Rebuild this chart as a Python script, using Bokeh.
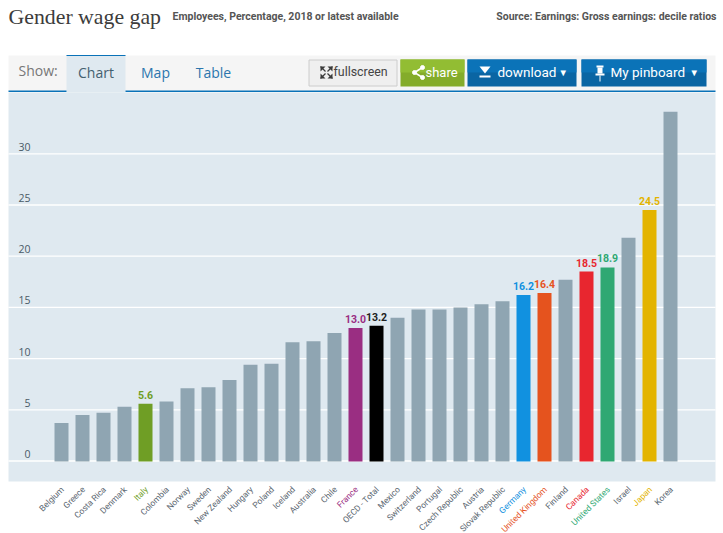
from bokeh.plotting import figure
from bokeh.models import Range1d
from bokeh.core.properties import value
from bokeh.embed import file_html
from bokeh.resources import INLINE

countries = ["Belgium","Greece","Costa Rica","Denmark","Italy","Colombia","Norway","Sweden","New Zealand","Hungary",
             "Poland","Iceland","Australia","Chile","France","OECD - Total","Mexico","Switzerland","Portugal","Czech Republic",
             "Austria","Slovak Republic","Germany","United Kingdom","Finland","Canada","United States","Israel","Japan","Korea"]
gap = [3.7,4.5,4.7,5.3,5.6,5.8,7.1,7.2,7.9,9.4,
       9.5,11.6,11.7,12.5,13.0,13.2,14.0,14.8,14.8,15.0,
       15.3,15.6,16.2,16.4,17.7,18.5,18.9,21.8,24.5,34.1]
highlight = {"Italy":"#6f9e25","France":"#9a2e82","OECD - Total":"#000000","Germany":"#1191e0","United Kingdom":"#e5531e",
             "Canada":"#e8262f","United States":"#2fa873","Japan":"#e3b400"}
y_ticks = [0,5,10,15,20,25,30]
GREY = "#8fa5b2"
BG = "#dfe9f0"
W, H = 723, 533
X0, DX = 61.0, 21.0
Y0, DY = 460.5, 10.24

p = figure(width=W, height=H, output_backend="svg", toolbar_location=None, margin=(0,0,0,0),
           x_range=Range1d(-X0/DX, (W-X0)/DX), y_range=Range1d(-(H-Y0)/DY, Y0/DY),
           min_border=0, outline_line_color=None, background_fill_color="white", border_fill_color="white")
p.axis.visible = False
p.grid.visible = False
p.extra_x_ranges["px"] = Range1d(0, W)
p.extra_y_ranges["px"] = Range1d(H, 0)
PX = dict(x_range_name="px", y_range_name="px")

def box(l, r, t, b, color, line=None):
    p.quad(left=l, right=r, top=t, bottom=b, fill_color=color, line_color=line, **PX)

def txt(x, y, s, size, color, font="Roboto", align="left", style="normal"):
    p.text(x=[x], y=[y], text=[s], text_font=value(font), text_font_size=f"{size}px", text_color=color,
           text_align=align, text_baseline="middle", text_font_style=style, **PX)

# header
txt(8, 16, "Gender wage gap", 21.8, "#3c3c3c", font="Liberation Serif")
txt(172, 16, "Employees, Percentage, 2018 or latest available", 10.5, "#555555", style="bold")
txt(716, 16, "Source: Earnings: Gross earnings: decile ratios", 10.5, "#555555", align="right", style="bold")

# tab strip
box(8, 715, 55, 90.5, "#f5f5f5")
box(66, 125, 55, 92, BG)
box(66, 125, 54.5, 55.5, "#0a72b8")
box(8, 66, 90, 91.5, "#0a72b8")
box(125, 715, 90, 91.5, "#0a72b8")
txt(18, 70, "Show:", 14, "#777777", font="Open Sans")
txt(95.5, 72, "Chart", 14, "#44606f", font="Open Sans", align="center")
txt(155, 72, "Map", 14, "#2c76ad", font="Open Sans", align="center")
txt(213, 72, "Table", 14, "#2c76ad", font="Open Sans", align="center")

# buttons
box(308.5, 396.5, 59.5, 85.5, "#efefef", "#cccccc")
box(400, 464, 59, 86, "#84ac2a")
box(400, 464, 59, 72, "#92bd33")
box(467, 576, 59, 86, "#0a65a3")
box(467, 576, 59, 72, "#0b73b8")
box(581, 706, 59, 86, "#0a65a3")
box(581, 706, 59, 72, "#0b73b8")
# fullscreen icon
for (x, y, dx, dy) in [(320,66,1,1),(332,66,-1,1),(320,78,1,-1),(332,78,-1,-1)]:
    p.patch(x=[x, x+5*dx, x], y=[y, y, y+5*dy], fill_color="#3b3b3b", line_color=None, **PX)
    p.segment(x0=[x], y0=[y], x1=[x+5*dx], y1=[y+5*dy], line_color="#3b3b3b", line_width=1.2, **PX)
txt(333, 71, "fullscreen", 12.4, "#444444")
# share icon
p.multi_line(xs=[[422, 414, 422]], ys=[[67, 72, 77]], line_color="white", line_width=1.5, **PX)
p.scatter(x=[422, 414, 422], y=[67, 72, 77], size=4, color="white", **PX)
txt(425, 72, "share", 13, "white")
# download icon
p.patch(x=[479, 490, 484.5], y=[66, 66, 73], fill_color="white", line_color=None, **PX)
box(479, 490, 75, 77, "white")
txt(497, 71, "download", 13.5, "white")
txt(558, 72, "▼", 9.5, "white")
# pin icon
box(596, 603, 65, 67, "white")
box(597, 602, 67, 73, "white")
box(595, 604, 73, 75, "white")
box(599, 600, 75, 81, "white")
txt(610, 71, "My pinboard", 13.5, "white")
txt(689, 72, "▼", 9.5, "white")

# plot area
box(8, 715, 92, 481, BG)
p.segment(x0=8, x1=715, y0=y_ticks, y1=y_ticks, line_color="white", line_width=1.3, x_range_name="px")

xs = list(range(len(countries)))
colors = [highlight.get(c, GREY) for c in countries]
p.vbar(x=xs, top=gap, bottom=-0.05, width=14/DX, fill_color=colors, line_color=None)

# y tick labels (inside the plot area, sitting above the grid lines)
p.text(x=[30]*len(y_ticks), y=y_ticks, text=[str(t) for t in y_ticks], text_font=value("Open Sans"),
       text_font_size="10.5px", text_color="#4a5a66", text_align="right", text_baseline="middle",
       y_offset=-7, x_range_name="px")

# value labels on highlighted bars
hl = [i for i, c in enumerate(countries) if c in highlight]
p.text(x=[xs[i] for i in hl], y=[gap[i] for i in hl], text=[f"{gap[i]:.1f}" for i in hl],
       text_font=value("Roboto"), text_font_size="10.5px",
       text_color=[("#222222" if countries[i]=="OECD - Total" else highlight[countries[i]]) for i in hl],
       text_align="center", text_baseline="bottom", y_offset=-5, text_font_style="bold")

# category labels
cat_colors = [highlight.get(c, "#5a6670") if c != "OECD - Total" else "#5a6670" for c in countries]
p.text(x=xs, y=[0]*len(xs), text=countries, text_font=value("Roboto"), text_font_size="8.5px",
       text_color=cat_colors, text_align="right", text_baseline="middle", angle=45, angle_units="deg",
       x_offset=1, y_offset=27)

open("out.html", "w").write(file_html(p, INLINE))
